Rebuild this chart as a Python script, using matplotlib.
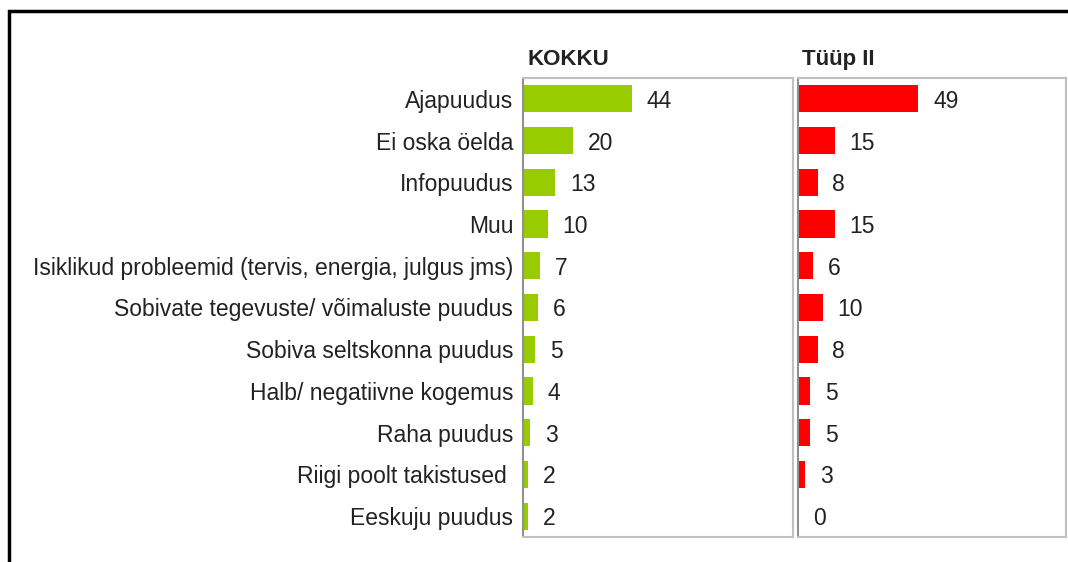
import matplotlib.pyplot as plt
from matplotlib.patches import Rectangle

# data
categories = ["Ajapuudus", "Ei oska öelda", "Infopuudus", "Muu",
              "Isiklikud probleemid (tervis, energia, julgus jms)",
              "Sobivate tegevuste/ võimaluste puudus", "Sobiva seltskonna puudus",
              "Halb/ negatiivne kogemus", "Raha puudus", "Riigi poolt takistused ",
              "Eeskuju puudus"]
kokku = [44, 20, 13, 10, 7, 6, 5, 4, 3, 2, 2]
tyyp2 = [49, 15, 8, 15, 6, 10, 8, 5, 5, 3, 0]
titles = ["KOKKU", "Tüüp II"]
colors = ["#99cc00", "#ff0000"]

plt.rcParams['font.family'] = ['Liberation Sans', 'DejaVu Sans']
FS = 16.5

W, H = 1068, 562
fig = plt.figure(figsize=(W / 100, H / 100), dpi=100)

# outer black frame (bottom/right cut off in the reference)
fig.patches.append(Rectangle((9 / W, -0.05), 1.1, 1 - 11 / H + 0.05,
                             transform=fig.transFigure, fill=False,
                             edgecolor="black", linewidth=2.5))

top, bottom = 78, 537
panels = [(523, 793), (798, 1066)]
n = len(categories)
ypos = list(range(n))

for i, (vals, title, col) in enumerate(zip([kokku, tyyp2], titles, colors)):
    x0, x1 = panels[i]
    ax = fig.add_axes([x0 / W, 1 - bottom / H, (x1 - x0) / W, (bottom - top) / H])
    ax.barh(ypos, vals, height=0.65, color=col)
    ax.set_xlim(0, 109)
    ax.set_ylim(n - 0.5, -0.5)
    for y, v in zip(ypos, vals):
        ax.text(v + 6, y, str(v), va="center_baseline", ha="left", fontsize=FS,
                color="#222222")
    for s in ax.spines.values():
        s.set_color("#c0c0c0")
        s.set_linewidth(1.5)
    ax.spines["left"].set_color("#909090")
    ax.set_xticks([])
    ax.tick_params(left=False)
    if i == 0:
        ax.set_yticks(ypos)
        ax.set_yticklabels(categories, fontsize=FS, color="#222222")
        ax.tick_params(axis="y", pad=3.5)
    else:
        ax.set_yticks([])
    ax.text(0.015, 1.028, title, transform=ax.transAxes, fontsize=FS - 0.5,
            fontweight="bold", color="#222222", ha="left", va="baseline")

fig.savefig("out.png", dpi=100)
